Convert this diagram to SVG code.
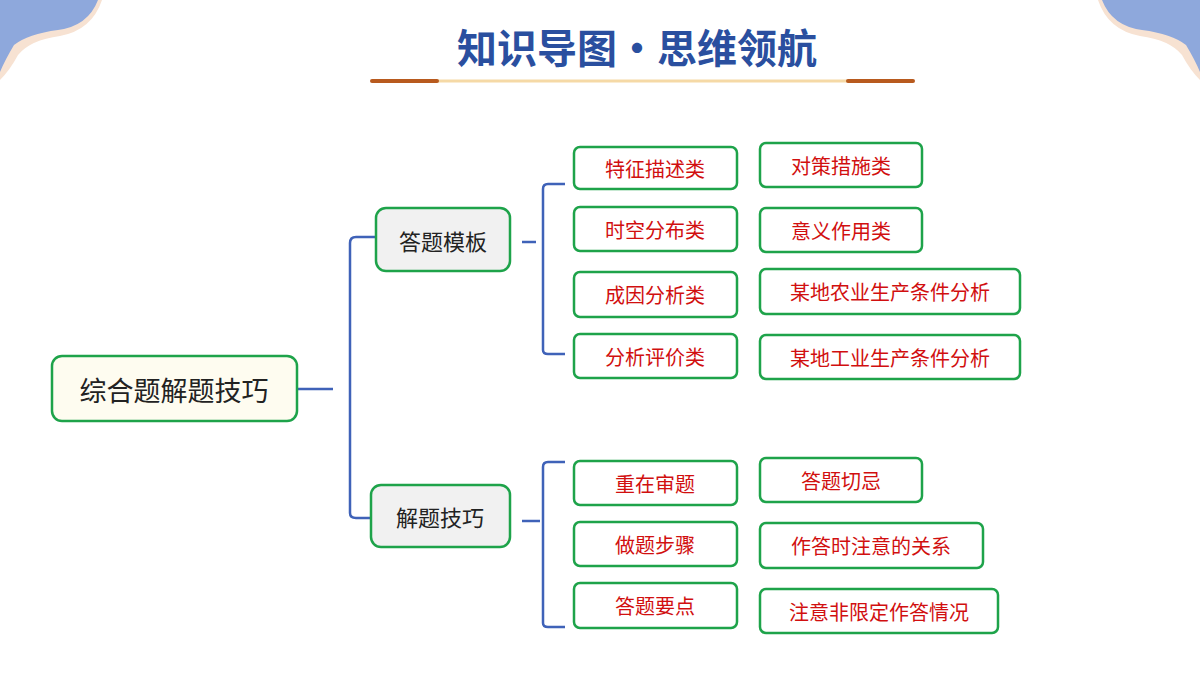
<svg xmlns="http://www.w3.org/2000/svg" width="1200" height="675" viewBox="0 0 1200 675">
<style>
.n{fill:#fff;stroke:#1ea34a;stroke-width:2.5}
.t{font-family:"Noto Sans CJK SC",sans-serif;text-anchor:middle;dominant-baseline:central}
.r{fill:#d10f0f;font-size:20px}
.k{fill:#222;font-size:22px}
.c{fill:none;stroke:#3f62b8;stroke-width:2.5}
</style>
<rect width="1200" height="675" fill="#fff"/>
<path d="M0 0H102Q92 30 60 36Q30 40 18 55Q10 70 0 80Z" fill="#f7e2d2"/>
<path d="M0 0H98Q88 26 58 30Q28 34 14 45Q5 60 0 72Z" fill="#8ea8dc"/>
<path d="M1200 0H1098Q1108 30 1140 36Q1170 40 1182 55Q1190 70 1200 80Z" fill="#f7e2d2"/>
<path d="M1200 0H1102Q1112 26 1142 30Q1172 34 1186 45Q1195 60 1200 72Z" fill="#8ea8dc"/>
<text x="637" y="46" class="t" font-size="40" font-weight="bold" fill="#2a4f9f">知识导图•思维领航</text>
<line x1="372" y1="81" x2="913" y2="81" stroke="#f5d9a6" stroke-width="3"/>
<line x1="372" y1="81" x2="437" y2="81" stroke="#b85a1e" stroke-width="4" stroke-linecap="round"/>
<line x1="848" y1="81" x2="913" y2="81" stroke="#b85a1e" stroke-width="4" stroke-linecap="round"/>
<g id="connectors">
<path class="c" d="M297 389H333"/>
<path class="c" d="M375 237H356Q350 237 350 243V513Q350 518 356 518H370"/>
<path class="c" d="M522 242H536"/>
<path class="c" d="M565 184H548Q543 184 543 189V350Q543 354 548 354H565"/>
<path class="c" d="M522 521H540"/>
<path class="c" d="M565 462H548Q543 462 543 467V623Q543 627 548 627H565"/>
</g>
<g id="root"><rect x="52" y="356" width="245" height="65" rx="10" class="n" fill="#fefcf0" style="fill:#fefcf0"/><text x="174" y="389" class="t" font-size="27" fill="#222">综合题解题技巧</text></g>
<g id="n1"><rect x="376" y="208" width="134" height="63" rx="10" class="n" style="fill:#f1f1f1"/><text x="443" y="240" class="t k">答题模板</text></g>
<g id="n2"><rect x="371" y="485" width="139" height="62" rx="10" class="n" style="fill:#f1f1f1"/><text x="440" y="516" class="t k">解题技巧</text></g>
<g id="a1"><rect x="574" y="147" width="163" height="42" rx="6" class="n"/><text x="655" y="168" class="t r">特征描述类</text></g>
<g id="a2"><rect x="574" y="207" width="163" height="44" rx="6" class="n"/><text x="655" y="229" class="t r">时空分布类</text></g>
<g id="a3"><rect x="574" y="272" width="163" height="45" rx="6" class="n"/><text x="655" y="294" class="t r">成因分析类</text></g>
<g id="a4"><rect x="574" y="334" width="163" height="44" rx="6" class="n"/><text x="655" y="356" class="t r">分析评价类</text></g>
<g id="b1"><rect x="760" y="143" width="162" height="44" rx="6" class="n"/><text x="841" y="165" class="t r">对策措施类</text></g>
<g id="b2"><rect x="760" y="208" width="162" height="44" rx="6" class="n"/><text x="841" y="230" class="t r">意义作用类</text></g>
<g id="b3"><rect x="760" y="269" width="260" height="45" rx="6" class="n"/><text x="890" y="291" class="t r">某地农业生产条件分析</text></g>
<g id="b4"><rect x="760" y="335" width="260" height="44" rx="6" class="n"/><text x="890" y="357" class="t r">某地工业生产条件分析</text></g>
<g id="c1"><rect x="574" y="461" width="163" height="44" rx="6" class="n"/><text x="655" y="483" class="t r">重在审题</text></g>
<g id="c2"><rect x="574" y="522" width="163" height="44" rx="6" class="n"/><text x="655" y="544" class="t r">做题步骤</text></g>
<g id="c3"><rect x="574" y="583" width="163" height="45" rx="6" class="n"/><text x="655" y="605" class="t r">答题要点</text></g>
<g id="d1"><rect x="760" y="458" width="162" height="44" rx="6" class="n"/><text x="841" y="480" class="t r">答题切忌</text></g>
<g id="d2"><rect x="760" y="523" width="223" height="45" rx="6" class="n"/><text x="871" y="545" class="t r">作答时注意的关系</text></g>
<g id="d3"><rect x="760" y="589" width="238" height="44" rx="6" class="n"/><text x="879" y="611" class="t r">注意非限定作答情况</text></g>
</svg>
